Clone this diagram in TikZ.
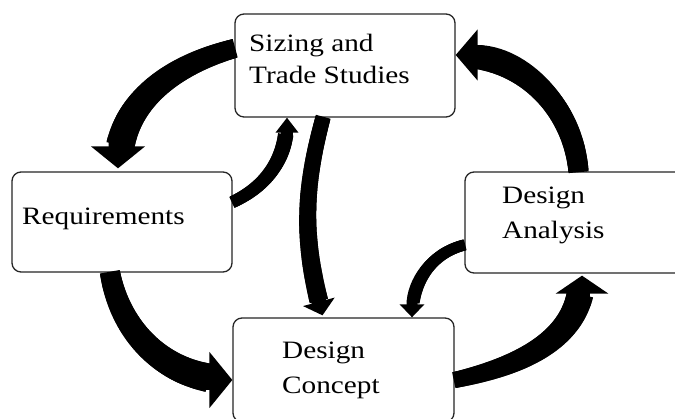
\documentclass[tikz,border=0pt]{standalone}
\usepackage{fontspec}
\setmainfont{Liberation Serif}[FakeStretch=1.17]
\usetikzlibrary{arrows.meta,decorations.markings}
\begin{document}
\begin{tikzpicture}[x=1pt,y=1pt,
  box/.style={draw=black!85, line width=1.3pt, rounded corners=9pt, inner sep=0pt, fill=white},
  lbl/.style={anchor=base west, inner sep=0pt},
  flow/.style n args={4}{line width=#1, draw=black,
    arrows={-{Triangle[width=#3,length=#4]}},
    postaction={decorate, decoration={markings,
      mark=between positions 0 and -#4-2pt step 1pt with {%
        \pgfmathsetmacro\tw{#1+(#2-#1)*\pgfkeysvalueof{/pgf/decoration/mark info/distance from start}/\pgfdecoratedpathlength}%
        \fill[black] ({-0.9pt},{-0.5*\tw pt}) rectangle ({0.9pt},{0.5*\tw pt});}}}},
]
\useasboundingbox (0,0) rectangle (675,419);
\clip (0,0) rectangle (675,419);
\fill[white] (0,0) rectangle (675,419);

% boxes
\node[box, minimum width=220pt, minimum height=103pt] (siz) at (345,353.5) {};
\node[box, minimum width=220pt, minimum height=100pt] (req) at (122,197) {};
\node[box, minimum width=221pt, minimum height=104pt] (con) at (343.5,49) {};
\node[box, minimum width=225pt, minimum height=101pt] (ana) at (577.5,196.5) {};

% labels
\node[lbl, font=\fontsize{25}{32}\selectfont] (tsiz) at (249,367.5)
  {\begin{tabular}[t]{@{}l@{}}Sizing and\\Trade Studies\end{tabular}};
\node[lbl, font=\fontsize{25}{34}\selectfont] (treq) at (22,194.7) {Requirements};
\node[lbl, font=\fontsize{25}{35}\selectfont] (tcon) at (282,60.7)
  {\begin{tabular}[t]{@{}l@{}}Design\\Concept\end{tabular}};
\node[lbl, font=\fontsize{25}{35}\selectfont] (tana) at (502,215.7)
  {\begin{tabular}[t]{@{}l@{}}Design\\Analysis\end{tabular}};

% arrows
\draw[flow={19}{30}{53pt}{22pt}] ([yshift=17pt]siz.west) to[out=195,in=90] ([shift={(-4pt,3pt)}]req.north);
\draw[flow={12}{16}{22pt}{15pt}] ([yshift=20pt]req.east) to[out=25,in=-90] ([xshift=-58pt]siz.south);
\draw[flow={15}{19}{32pt}{14pt}] ([xshift=-22pt]siz.south) to[out=-105,in=105] ([shift={(-21pt,2pt)}]con.north);
\draw[flow={20}{30}{55pt}{23pt}] ([xshift=-12pt]req.south) to[out=-80,in=180] ([yshift=-10pt]con.west);
\draw[flow={11}{13}{24pt}{13pt}] ([yshift=-22.5pt]ana.west) to[out=194,in=90] ([xshift=68.5pt]con.north);
\draw[flow={16}{28}{52pt}{18pt}] ([yshift=-10pt]con.east) to[out=12,in=-90] ([shift={(4.5pt,-2pt)}]ana.south);
\draw[flow={20}{25}{50pt}{22pt}] ([xshift=1pt]ana.north) to[out=95,in=0] ([yshift=10.5pt]siz.east);
\end{tikzpicture}
\end{document}
